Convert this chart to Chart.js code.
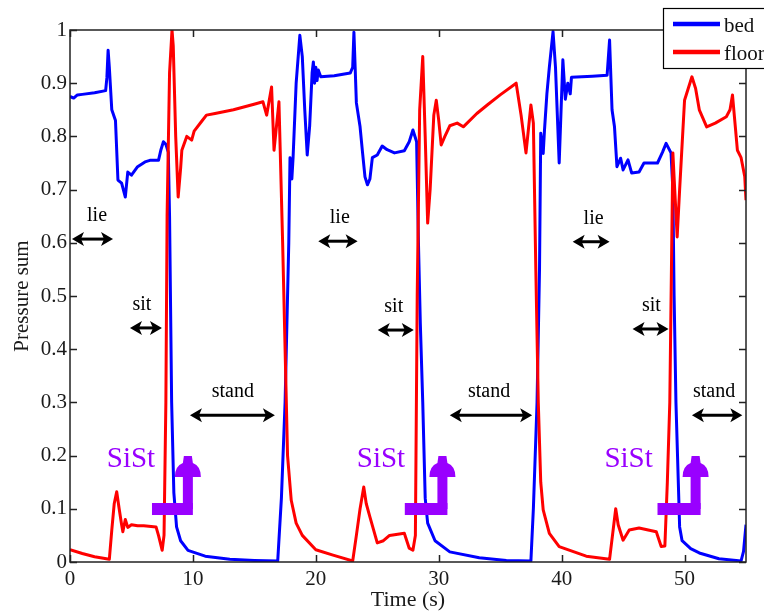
<!DOCTYPE html>
<html>
<head>
<meta charset="utf-8">
<script src="https://cdn.jsdelivr.net/npm/chart.js@4.4.1/dist/chart.umd.min.js"></script>
<style>
  body { margin: 0; background: #fff; }
  canvas { display: block; }
</style>
</head>
<body>
<canvas id="chart" width="764" height="613"></canvas>
<script>
// pressure sums (time in s)
const bedTime = [0, 0.3, 0.6, 1.0, 2.0, 2.9, 3.0, 3.1, 3.2, 3.4, 3.7, 3.9, 4.2, 4.5, 4.7, 5.0, 5.5, 6.1, 6.5, 7.2, 7.4, 7.6, 7.8, 8.0, 8.1, 8.27, 8.45, 8.67, 9.0, 9.6, 11, 13, 15, 16.9,
  17.2, 17.5, 17.8, 17.9, 18.05, 18.15, 18.4, 18.7, 18.9, 19.1, 19.3, 19.5, 19.7, 19.8, 19.9, 20.0, 20.1, 20.2, 20.4, 21.5, 22.8, 23.0, 23.1, 23.2, 23.3, 23.6, 23.8, 24.0, 24.2, 24.4, 24.6, 25.0, 25.4, 25.8, 26.4, 27.2, 27.6, 27.9, 28.2, 28.35, 28.5, 28.7, 28.9, 29.1, 29.7, 30.9, 33.3, 35.5,
  37.5, 37.7, 38.0, 38.2, 38.3, 38.5, 38.6, 38.8, 39.0, 39.3, 39.5, 39.8, 40.1, 40.3, 40.5, 40.7, 40.8, 42.5, 43.7, 43.9, 44.1, 44.3, 44.5, 44.8, 45.0, 45.4, 45.7, 46.3, 46.7, 47.8, 48.2, 48.5, 48.9, 49.05, 49.15, 49.3, 49.6, 49.8, 50.5, 51.2, 52.8, 54.6, 54.8, 55];
const bedValue = [0.875, 0.872, 0.878, 0.879, 0.882, 0.886, 0.91, 0.962, 0.93, 0.85, 0.83, 0.718, 0.712, 0.686, 0.733, 0.727, 0.743, 0.752, 0.755, 0.755, 0.775, 0.79, 0.785, 0.77, 0.65, 0.3, 0.13, 0.066, 0.04, 0.022, 0.011, 0.005, 0.003, 0.002,
  0.12, 0.3, 0.6, 0.76, 0.72, 0.76, 0.9, 0.99, 0.95, 0.85, 0.765, 0.82, 0.92, 0.94, 0.9, 0.93, 0.905, 0.925, 0.912, 0.914, 0.919, 0.93, 0.996, 0.93, 0.863, 0.818, 0.77, 0.724, 0.709, 0.72, 0.76, 0.765, 0.782, 0.775, 0.769, 0.773, 0.79, 0.812, 0.79, 0.6, 0.45, 0.3, 0.12, 0.073, 0.04, 0.019, 0.008, 0.003,
  0.002, 0.1, 0.3, 0.55, 0.806, 0.768, 0.81, 0.88, 0.93, 0.997, 0.93, 0.75, 0.944, 0.87, 0.9, 0.88, 0.911, 0.913, 0.915, 0.981, 0.85, 0.818, 0.743, 0.759, 0.737, 0.756, 0.731, 0.733, 0.75, 0.75, 0.77, 0.787, 0.769, 0.7, 0.5, 0.3, 0.066, 0.04, 0.025, 0.017, 0.006, 0.002, 0.02, 0.07];

const floorTime = [0, 1.0, 2.0, 3.2, 3.4, 3.6, 3.8, 4.0, 4.2, 4.3, 4.5, 4.7, 5.0, 5.5, 6.0, 7.0, 7.2, 7.5, 7.65, 7.8, 7.9, 8.1, 8.3, 8.4, 8.6, 8.8, 9.0, 9.1, 9.5, 9.9, 10.1, 10.7, 11.1, 11.8, 13.3, 14.9, 15.7, 16.0, 16.4, 16.6, 17.0, 17.3, 17.6, 17.7, 18.0, 18.4, 18.9, 20.0, 21.4, 23.0,
  23.3, 23.6, 23.9, 24.1, 24.4, 25.0, 25.5, 26.0, 27.2, 27.6, 27.9, 28.1, 28.25, 28.45, 28.7, 28.9, 29.1, 29.3, 29.6, 29.8, 30.0, 30.2, 30.5, 30.9, 31.5, 32.0, 33.1, 34.0, 35.0, 36.3, 36.7, 37.1, 37.5, 37.7, 37.9, 38.1, 38.3, 38.5, 39.0, 39.8, 42.0, 43.9,
  44.4, 44.6, 45.0, 45.5, 46.3, 47.7, 48.1, 48.4, 48.6, 48.8, 49.05, 49.2, 49.4, 49.6, 50.0, 50.6, 50.9, 51.2, 51.8, 52.5, 53.4, 53.7, 53.9, 54.3, 54.6, 54.9, 55];
const floorValue = [0.023, 0.016, 0.01, 0.005, 0.06, 0.11, 0.132, 0.1, 0.07, 0.057, 0.08, 0.065, 0.07, 0.068, 0.068, 0.066, 0.05, 0.022, 0.05, 0.3, 0.65, 0.92, 1.0, 0.97, 0.8, 0.686, 0.74, 0.774, 0.8, 0.793, 0.81, 0.828, 0.84, 0.843, 0.85, 0.86, 0.865, 0.84, 0.893, 0.774, 0.865, 0.6, 0.3, 0.2, 0.116, 0.073, 0.05, 0.023, 0.013, 0.002,
  0.05, 0.1, 0.141, 0.11, 0.085, 0.036, 0.04, 0.05, 0.054, 0.026, 0.022, 0.05, 0.5, 0.85, 0.95, 0.8, 0.637, 0.7, 0.84, 0.868, 0.83, 0.784, 0.8, 0.82, 0.825, 0.818, 0.843, 0.86, 0.878, 0.9, 0.84, 0.769, 0.859, 0.825, 0.55, 0.3, 0.15, 0.098, 0.054, 0.029, 0.011, 0.005,
  0.1, 0.07, 0.041, 0.06, 0.064, 0.057, 0.029, 0.03, 0.15, 0.3, 0.769, 0.7, 0.611, 0.7, 0.868, 0.912, 0.89, 0.85, 0.818, 0.825, 0.837, 0.85, 0.878, 0.774, 0.76, 0.724, 0.68];

const xTicks = [0, 10, 20, 30, 40, 50];
const yTicks = [0, 0.1, 0.2, 0.3, 0.4, 0.5, 0.6, 0.7, 0.8, 0.9, 1];
const yTickLabels = ["0", "0.1", "0.2", "0.3", "0.4", "0.5", "0.6", "0.7", "0.8", "0.9", "1"];

const seriesNames = ["bed", "floor"];
const seriesColors = ["#0000ff", "#ff0000"];

// phase labels: [text, label x, arrow from, arrow to, arrow y]
const phases = [
  ["lie", 2.2, 0.16, 3.5, 0.607], ["lie", 21.95, 20.2, 23.4, 0.603], ["lie", 42.6, 40.9, 43.9, 0.602],
  ["sit", 5.85, 4.88, 7.48, 0.44], ["sit", 26.34, 25.04, 27.97, 0.436], ["sit", 47.3, 45.77, 48.7, 0.438],
  ["stand", 13.25, 9.76, 16.67, 0.276], ["stand", 34.1, 30.9, 37.6, 0.276], ["stand", 52.4, 50.6, 54.7, 0.276]
];
// SiSt markers: [text x, bar start, shaft x]
const sist = [[4.96, 6.67, 9.59], [25.3, 27.24, 30.3], [45.45, 47.8, 50.9]];

const serif = "'Liberation Serif', 'DejaVu Serif', serif";
const purple = "#9900ff";

function toXY(ts, vs) { return ts.map((t, i) => ({x: t, y: vs[i]})); }

function arrowHead(ctx, x, y, dir) {
  ctx.beginPath();
  ctx.moveTo(x, y);
  ctx.lineTo(x - dir * 12, y - 7);
  ctx.lineTo(x - dir * 9, y);
  ctx.lineTo(x - dir * 12, y + 7);
  ctx.closePath();
  ctx.fill();
}

const decor = {
  id: "decor",
  afterDatasetsDraw(chart) {
    const {ctx, chartArea: a, scales: {x, y}} = chart;
    ctx.save();
    // frame and inward ticks
    ctx.strokeStyle = "#222";
    ctx.lineWidth = 1.5;
    ctx.strokeRect(a.left, a.top, a.right - a.left, a.bottom - a.top);
    ctx.beginPath();
    xTicks.forEach(v => {
      const px = Math.round(x.getPixelForValue(v)) + 0.5;
      ctx.moveTo(px, a.bottom); ctx.lineTo(px, a.bottom - 7);
      ctx.moveTo(px, a.top); ctx.lineTo(px, a.top + 7);
    });
    yTicks.forEach(v => {
      const py = Math.round(y.getPixelForValue(v)) + 0.5;
      ctx.moveTo(a.left, py); ctx.lineTo(a.left + 7, py);
      ctx.moveTo(a.right, py); ctx.lineTo(a.right - 7, py);
    });
    ctx.stroke();

    // phase arrows
    ctx.fillStyle = "#000";
    ctx.strokeStyle = "#000";
    ctx.lineWidth = 3;
    ctx.font = "20px " + serif;
    ctx.textAlign = "center";
    ctx.textBaseline = "alphabetic";
    phases.forEach(([txt, lx, x0, x1, yv]) => {
      const p0 = x.getPixelForValue(x0), p1 = x.getPixelForValue(x1), py = y.getPixelForValue(yv);
      ctx.beginPath();
      ctx.moveTo(p0 + 6, py); ctx.lineTo(p1 - 6, py);
      ctx.stroke();
      arrowHead(ctx, p0, py, -1);
      arrowHead(ctx, p1, py, 1);
      ctx.fillText(txt, x.getPixelForValue(lx), py - 18);
    });

    // SiSt markers
    ctx.fillStyle = purple;
    ctx.font = "29px " + serif;
    sist.forEach(([tx, x0, xs]) => {
      ctx.fillText("SiSt", x.getPixelForValue(tx), y.getPixelForValue(0.179));
      const b0 = x.getPixelForValue(x0), c = x.getPixelForValue(xs);
      const by = y.getPixelForValue(0.0996), tip = y.getPixelForValue(0.201);
      ctx.fillRect(b0, by - 6, c + 5 - b0, 12);
      ctx.fillRect(c - 5, tip + 18, 10, by - tip - 18);
      ctx.beginPath();
      ctx.moveTo(c - 13, tip + 22);
      ctx.quadraticCurveTo(c - 13, tip + 11, c - 5, tip + 8);
      ctx.lineTo(c - 4, tip + 1);
      ctx.lineTo(c + 4, tip + 1);
      ctx.lineTo(c + 5, tip + 8);
      ctx.quadraticCurveTo(c + 13, tip + 11, c + 13, tip + 22);
      ctx.closePath();
      ctx.fill();
    });

    // legend box in the top right corner
    ctx.fillStyle = "#fff";
    ctx.fillRect(663, 8, 120, 60);
    ctx.strokeStyle = "#000";
    ctx.lineWidth = 1.2;
    ctx.strokeRect(663.5, 8.5, 120, 60);
    ctx.font = "21px " + serif;
    ctx.textAlign = "left";
    seriesNames.forEach((name, i) => {
      const ly = 24 + i * 28;
      ctx.strokeStyle = seriesColors[i];
      ctx.lineWidth = 4.5;
      ctx.beginPath();
      ctx.moveTo(673, ly); ctx.lineTo(720, ly);
      ctx.stroke();
      ctx.fillStyle = "#111";
      ctx.fillText(name, 724, ly + 8);
    });
    ctx.restore();
  }
};

new Chart(document.getElementById("chart"), {
  type: "line",
  data: {
    datasets: [
      {label: seriesNames[0], data: toXY(bedTime, bedValue), borderColor: seriesColors[0], order: 1},
      {label: seriesNames[1], data: toXY(floorTime, floorValue), borderColor: seriesColors[1], order: 0}
    ]
  },
  options: {
    responsive: false,
    animation: false,
    devicePixelRatio: 1,
    layout: {padding: {left: 0, right: 18, top: 30, bottom: 0}},
    elements: {
      line: {borderWidth: 3, tension: 0, borderJoinStyle: "round"},
      point: {radius: 0}
    },
    plugins: {legend: {display: false}, tooltip: {enabled: false}},
    scales: {
      x: {
        type: "linear", min: 0, max: 55,
        afterBuildTicks: s => { s.ticks = xTicks.map(v => ({value: v})); },
        afterFit: s => { s.height = 51; },
        grid: {display: false, drawTicks: false},
        border: {display: false},
        ticks: {padding: 5, color: "#1a1a1a", font: {family: serif, size: 21}, maxRotation: 0},
        title: {display: true, text: "Time (s)", color: "#1a1a1a", font: {family: serif, size: 22}, padding: {top: 0, bottom: 0}}
      },
      y: {
        type: "linear", min: 0, max: 1,
        afterBuildTicks: s => { s.ticks = yTicks.map(v => ({value: v})); },
        afterFit: s => { s.width = 70; },
        grid: {display: false, drawTicks: false},
        border: {display: false},
        ticks: {padding: 3, color: "#1a1a1a", font: {family: serif, size: 21},
          callback: (v, i) => yTickLabels[i]},
        title: {display: true, text: "Pressure sum", color: "#1a1a1a", font: {family: serif, size: 21}, padding: {top: 10, bottom: 0}}
      }
    }
  },
  plugins: [decor]
});
</script>
</body>
</html>
